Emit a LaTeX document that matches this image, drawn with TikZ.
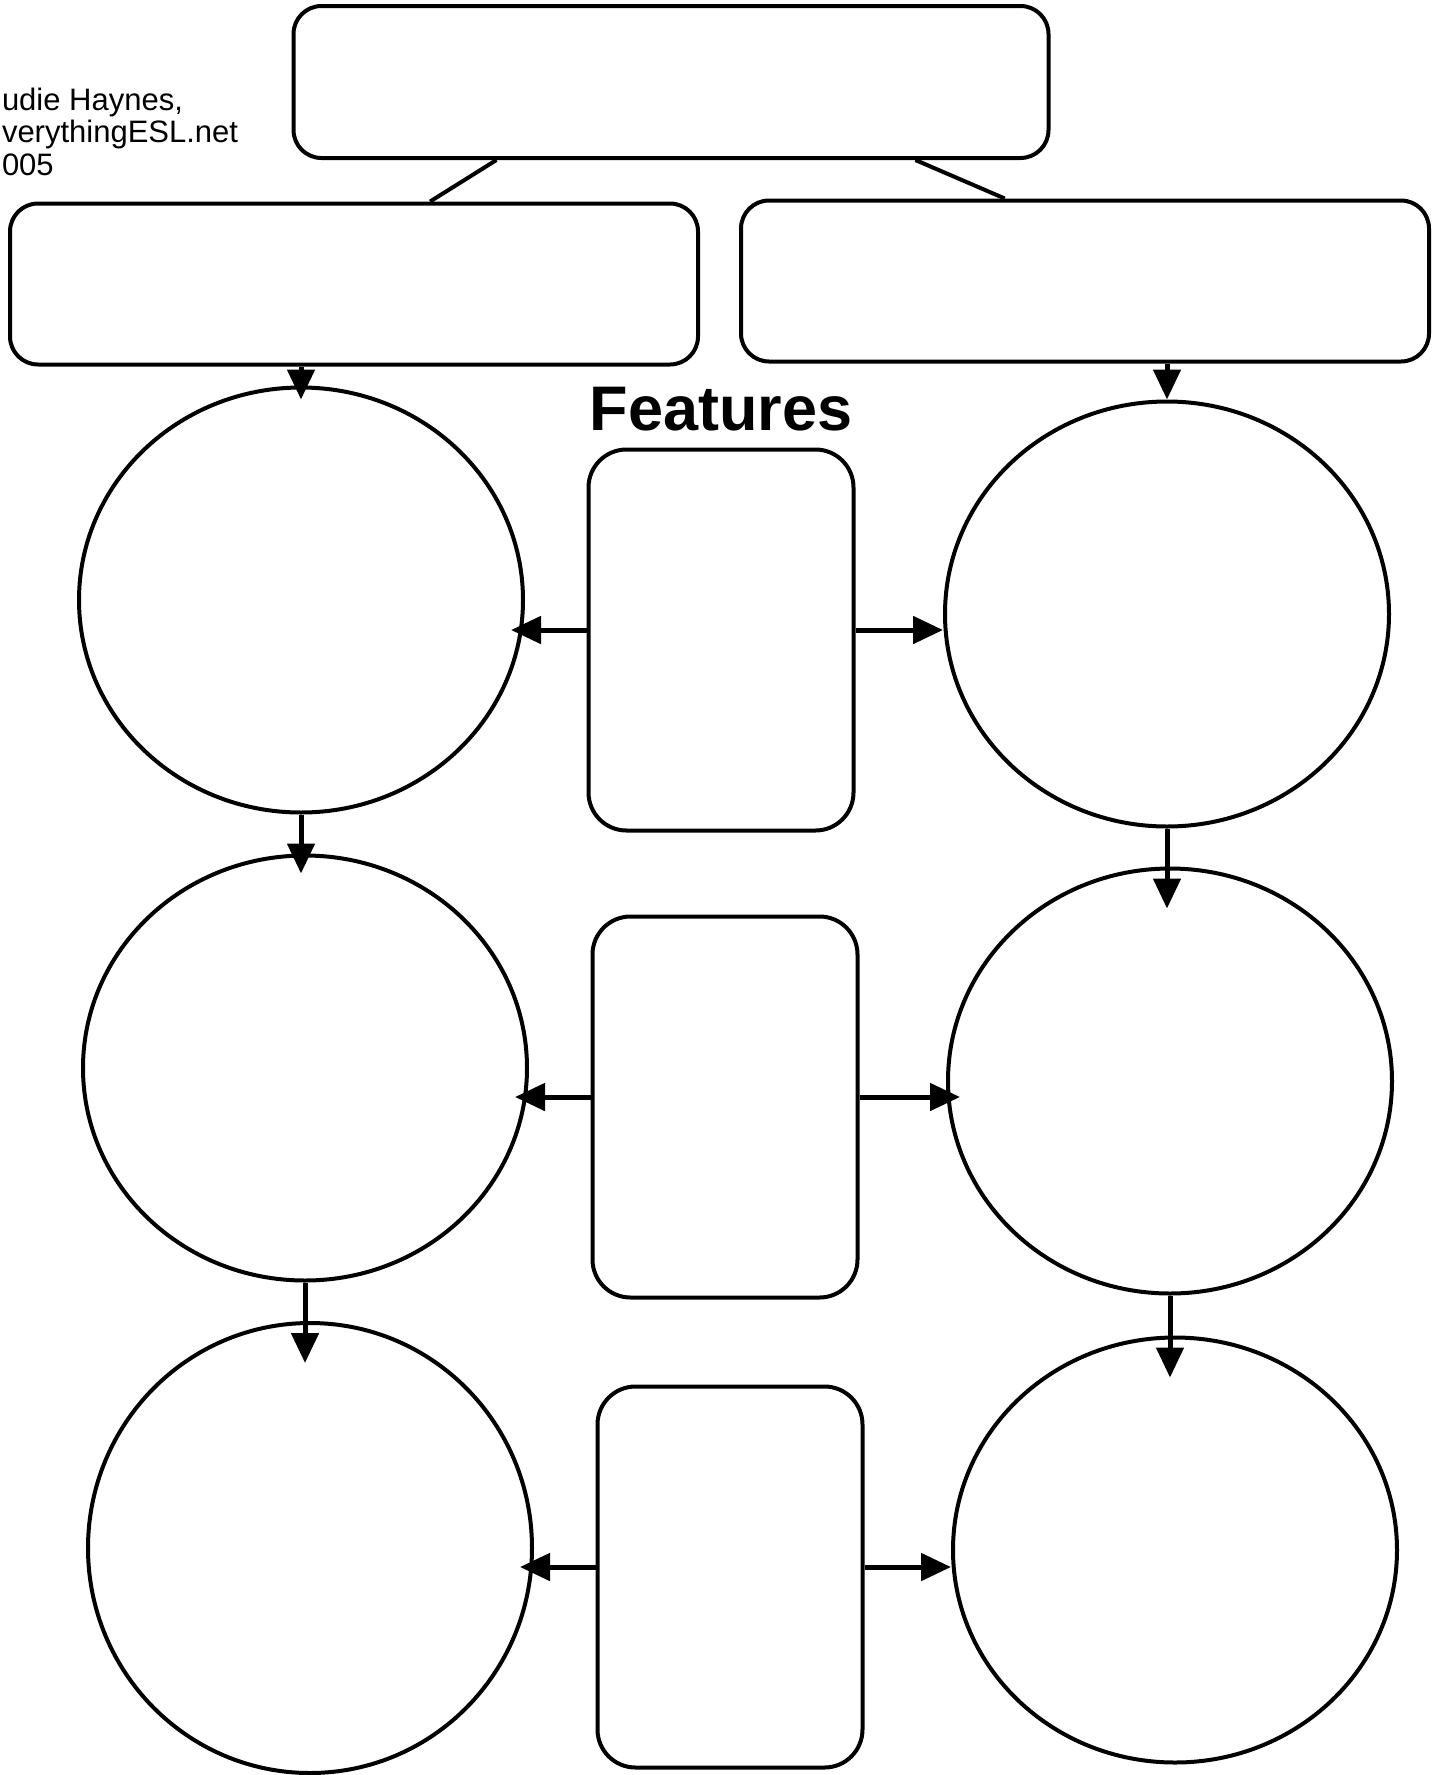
\documentclass[tikz,border=0pt]{standalone}
\usepackage{fontspec}
\setmainfont{Liberation Sans}
\usetikzlibrary{shapes.geometric,arrows.meta,calc}

\begin{document}
\begin{tikzpicture}[x=1pt, y=-1pt, line width=4pt,
  wide/.style={draw, rounded corners=28pt, inner sep=0pt, minimum width=688pt, minimum height=161pt},
  tall/.style={draw, rounded corners=38pt, inner sep=0pt, minimum width=265pt, minimum height=381pt},
  ring/.style={draw, ellipse, inner sep=0pt, minimum width=444pt, minimum height=425pt},
  arr/.style={line width=5pt, -{Triangle[length=30pt,width=27pt]}, shorten >=-14pt},
  down/.style={arr, shorten >=-20pt},
  deep/.style={arr, shorten >=-42pt}]
  \useasboundingbox (0,0) rectangle (1441,1775);
  % credit and heading
  \node[anchor=north west, align=left, inner sep=0pt, font=\fontsize{31}{32.5}\selectfont] (credit) at (0,86) {udie Haynes,\\verythingESL.net\\005};
  \node[anchor=base, inner sep=0pt, font=\fontsize{63}{63}\selectfont\bfseries] (feat) at (721,430) {Features};
  % top boxes
  \node[wide, minimum width=755pt, minimum height=152pt] (title) at (671,82) {};
  \node[wide] (leftbox) at (354,284) {};
  \node[wide] (rightbox) at (1085,281) {};
  % circles
  \node[ring] (lc1) at (301,600) {};
  \node[ring] (lc2) at (305,1068) {};
  \node[ring, minimum height=450pt] (lc3) at (310,1548) {};
  \node[ring] (rc1) at (1167,614) {};
  \node[ring] (rc2) at (1170,1081) {};
  \node[ring] (rc3) at (1175,1550) {};
  % feature boxes
  \node[tall] (mid1) at (721,640) {};
  \node[tall] (mid2) at (725,1107) {};
  \node[tall] (mid3) at (730,1577) {};
  % links
  \draw ($(title.south west)!0.27!(title.south east)$) -- ($(leftbox.north west)!0.61!(leftbox.north east)$);
  \draw ($(title.south west)!0.822!(title.south east)$) -- ($(rightbox.north west)!0.384!(rightbox.north east)$);
  \draw[arr] (lc1.north |- leftbox.south) -- (lc1.north);
  \draw[arr, shorten >=0pt] (rc1.north |- rightbox.south) -- (rc1.north);
  \draw[down] (lc1.south) -- (lc1.south |- lc2.north);
  \draw[deep] (lc2.south) -- (lc2.south |- lc3.north);
  \draw[deep] (rc1.south) -- (rc1.south |- rc2.north);
  \draw[deep] (rc2.south) -- (rc2.south |- rc3.north);
  \draw[arr] ([yshift=10pt]mid1.west) -- ([yshift=10pt]mid1.west -| lc1.east);
  \draw[arr] ([yshift=10pt]mid2.west) -- ([yshift=10pt]mid2.west -| lc2.east);
  \draw[arr] ([yshift=10pt]mid3.west) -- ([yshift=10pt]mid3.west -| lc3.east);
  \draw[arr, shorten >=0pt] ([yshift=10pt]mid1.east) -- ([yshift=10pt]mid1.east -| rc1.west);
  \draw[arr] ([yshift=10pt]mid2.east) -- ([yshift=10pt]mid2.east -| rc2.west);
  \draw[arr, shorten >=0pt] ([yshift=10pt]mid3.east) -- ([yshift=10pt]mid3.east -| rc3.west);
\end{tikzpicture}
\end{document}
